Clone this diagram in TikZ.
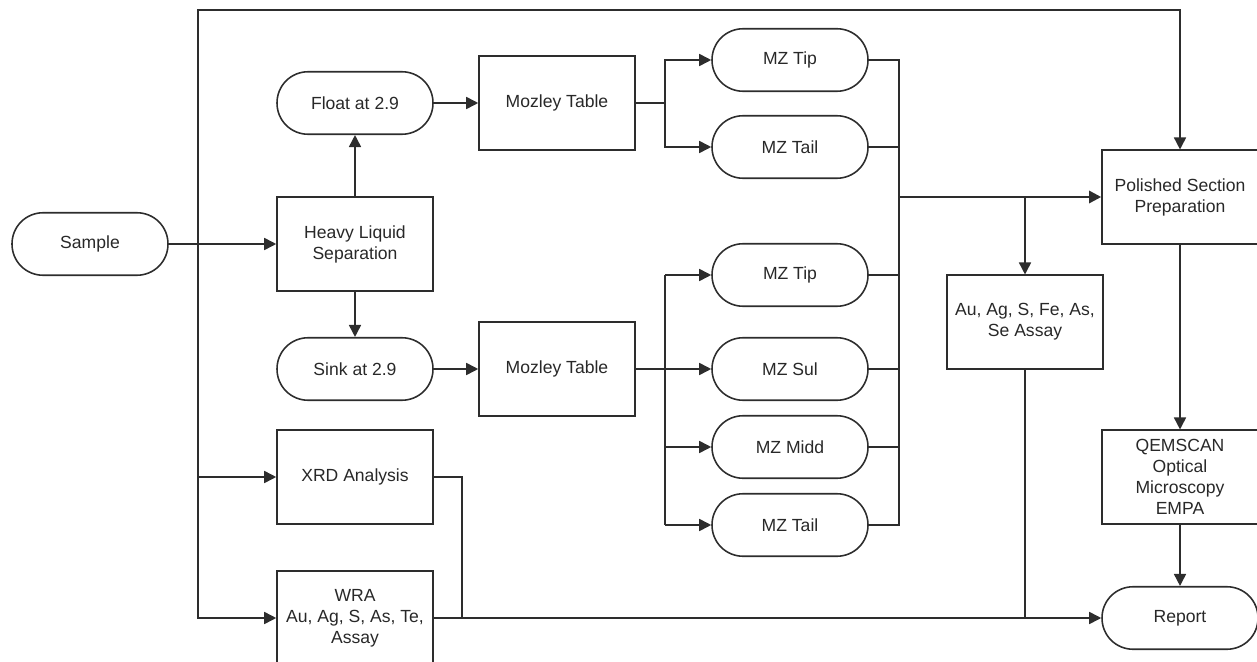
\documentclass[tikz,border=0pt]{standalone}
\usepackage{fontspec}
\setmainfont{Liberation Sans}
\usepackage{tikz}
\usetikzlibrary{arrows.meta,positioning,calc}
\definecolor{lineGray}{RGB}{45,45,45}
\definecolor{textGray}{RGB}{40,40,40}

\begin{document}
\begin{tikzpicture}[
        x=0.02cm,y=-0.02cm,
        box/.style={draw=lineGray,line width=0.9pt,align=center,text=textGray,font=\fontsize{10}{12}\selectfont,minimum width=3.12cm,minimum height=1.87cm,inner sep=1pt},
        term/.style={box,rounded corners=0.62cm,minimum height=1.25cm},
        link/.style={draw=lineGray,line width=0.9pt},
        arrow/.style={link,-{Triangle[length=0.24cm,width=0.24cm]}}
      ]
        \useasboundingbox (0,0) rectangle (1257,662);

        \node[term] (sample) at (90,244) {Sample};
        \node[box] (heavy) at (355,244) {Heavy Liquid\\Separation};
        \node[term] (float) at (355,103) {Float at 2.9};
        \node[term] (sink) at (355,369) {Sink at 2.9};
        \node[box] (xrd) at (355,477) {XRD Analysis};
        \node[box] (wra) at (355,618) {WRA\\Au, Ag, S, As, Te,\\Assay};

        \node[box] (mozA) at (557,103) {Mozley Table};
        \node[box] (mozB) at (557,369) {Mozley Table};

        \node[term] (tipA) at (790,60) {MZ Tip};
        \node[term] (tailA) at (790,147) {MZ Tail};
        \node[term] (tipB) at (790,275) {MZ Tip};
        \node[term] (sul) at (790,369) {MZ Sul};
        \node[term] (midd) at (790,447) {MZ Midd};
        \node[term] (tailB) at (790,525) {MZ Tail};

        \node[box] (assay) at (1025,322) {Au, Ag, S, Fe, As,\\Se Assay};
        \node[box] (polish) at (1180,197) {Polished Section\\Preparation};
        \node[box] (qem) at (1180,477) {QEMSCAN\\Optical\\Microscopy\\EMPA};
        \node[term] (report) at (1180,618) {Report};

        \coordinate (trunk) at (198,244);
        \coordinate (top) at (198,10);
        \coordinate (splitA) at (665,103);
        \coordinate (splitB) at (665,369);
        \coordinate (collect) at (899,197);
        \coordinate (xrdTurn) at (462,477);

        % sample feeds
        \draw[arrow] (sample) -- (heavy);
        \draw[arrow] (trunk) -- (top) -| (polish.north);
        \draw[arrow] (trunk) |- (xrd.west);
        \draw[arrow] (trunk) |- (wra.west);
        \draw[arrow] (heavy) -- (float);
        \draw[arrow] (heavy) -- (sink);
        \draw[arrow] (float) -- (mozA);
        \draw[arrow] (sink) -- (mozB);

        % mozley products
        \draw[link] (mozA) -- (splitA);
        \draw[arrow] (splitA) |- (tipA.west);
        \draw[arrow] (splitA) |- (tailA.west);
        \draw[link,line width=1.4pt] (mozB) -- (splitB);
        \draw[link] (splitB |- tipB) -- (splitB |- tailB);
        \foreach \n in {tipB,sul,midd,tailB}
          \draw[arrow] (splitB |- \n) -- (\n.west);
        \foreach \n in {tipA,tailA,tipB,sul,midd,tailB}
          \draw[link] (\n.east) -| (collect);

        % to the report
        \draw[arrow,line width=1.5pt] (collect) -- (polish);
        \draw[arrow] (assay |- collect) -- (assay);
        \draw[link] (assay.south) -- (assay.south |- report);
        \draw[link] (xrd.east) -| (xrdTurn |- wra.east);
        \draw[arrow] (wra) -- (report);
        \draw[arrow] (polish) -- (qem);
        \draw[arrow] (qem) -- (report);
      \end{tikzpicture}
\end{document}
